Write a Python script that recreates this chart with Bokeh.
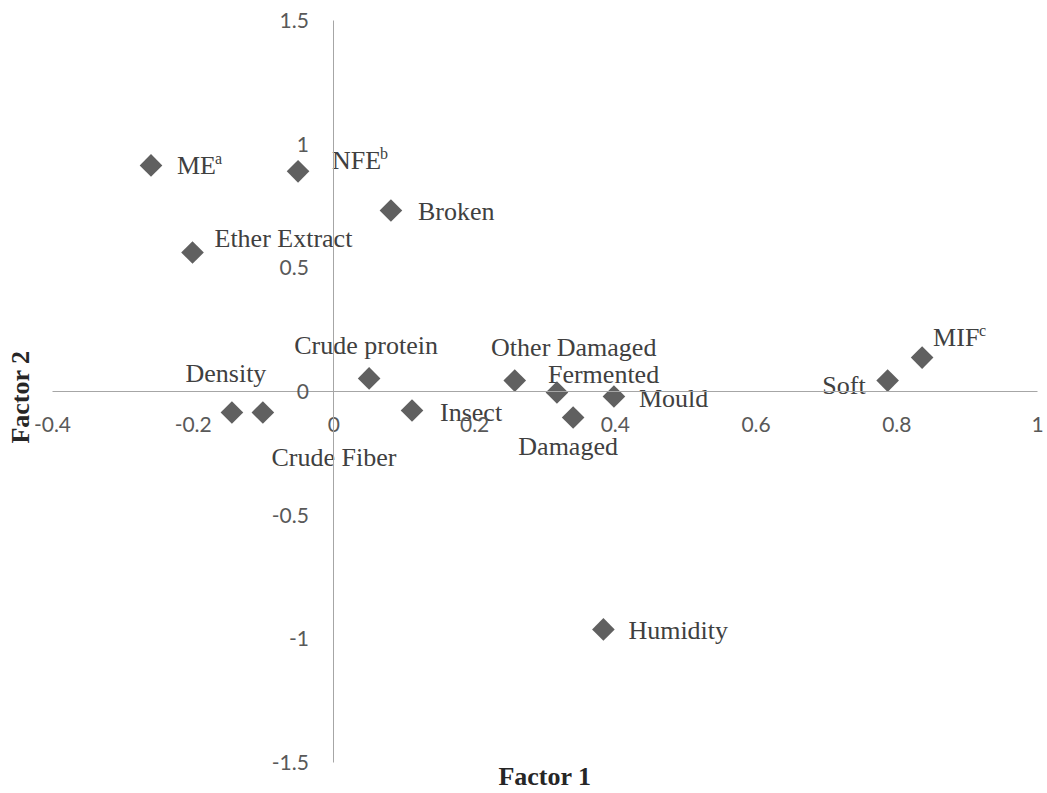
import numpy as np
from bokeh.plotting import figure
from bokeh.models import ColumnDataSource, Range1d, Title, FixedTicker, Label
from bokeh.core.properties import value
from bokeh.embed import file_html
from bokeh.resources import INLINE

# ---- data ----
labels = ["ME", "NFE", "Broken", "Ether Extract", "Crude protein", "Density",
          "Crude Fiber", "Insect", "Other Damaged", "Fermented", "Damaged",
          "Mould", "Soft", "MIF", "Humidity"]
superscripts = ["a", "b", "", "", "", "", "", "", "", "", "", "", "", "c", ""]
factor1 = [-0.260, -0.051, 0.081, -0.201, 0.050, -0.145, -0.101, 0.111,
           0.257, 0.317, 0.340, 0.398, 0.787, 0.836, 0.383]
factor2 = [0.914, 0.890, 0.732, 0.562, 0.053, -0.085, -0.085, -0.077,
           0.044, -0.004, -0.105, -0.020, 0.044, 0.137, -0.962]
x_ticks = [-0.4, -0.2, 0, 0.2, 0.4, 0.6, 0.8, 1]
x_tick_labels = ["-0.4", "-0.2", "0", "0.2", "0.4", "0.6", "0.8", "1"]
y_ticks = [-1.5, -1, -0.5, 0, 0.5, 1, 1.5]
y_tick_labels = ["-1.5", "-1", "-0.5", "0", "0.5", "1", "1.5"]

# ---- label placement (screen pixels relative to the marker) ----
label_dx = [26, 34, 27, 22, -3, -6, 71, 28, 59, -9, -5, 25, -22, 11, 25]
label_dy = [0, -11, 1, -14, -33, -39, 45, 2, -33, -18, 29, 2, 5, -20, 1]
label_align = ["left", "left", "left", "left", "center", "center", "center",
               "left", "center", "left", "center", "left", "right", "left", "left"]
sup_dx = {"ME": 64, "NFE": 82, "MIF": 57}

src = ColumnDataSource(dict(x=factor1, y=factor2, label=labels,
                            dx=label_dx, dy=label_dy, align=label_align))

sx, sy, st, sdx, sdy = [], [], [], [], []
for lab, s, x, y, dy in zip(labels, superscripts, factor1, factor2, label_dy):
    if s:
        sx.append(x); sy.append(y); st.append(s)
        sdx.append(sup_dx[lab]); sdy.append(dy - 7)
sup_src = ColumnDataSource(dict(x=sx, y=sy, text=st, dx=sdx, dy=sdy))

# frame padding so the axis labels at the ends are not clipped
xmin, xmax = x_ticks[0], x_ticks[-1]
ymin, ymax = y_ticks[0], y_ticks[-1]
kx = 985 / (xmax - xmin)
ky = 742 / (ymax - ymin)

p = figure(width=1047, height=793,
           x_range=Range1d(xmin - 18 / kx, xmax + 10 / kx),
           y_range=Range1d(ymin - 31 / ky, ymax + 20 / ky),
           output_backend="svg", toolbar_location=None,
           min_border_left=34, min_border_right=0,
           min_border_top=0, min_border_bottom=0)

p.grid.visible = False
p.outline_line_color = None
p.background_fill_color = "white"

for ax, ticks, tl in ((p.xaxis[0], x_ticks, x_tick_labels),
                      (p.yaxis[0], y_ticks, y_tick_labels)):
    ax.fixed_location = 0
    ax.bounds = (ticks[0], ticks[-1])
    ax.ticker = FixedTicker(ticks=ticks)
    ax.major_label_overrides = dict(zip(ticks, tl))
    ax.axis_line_color = "#a6a6a6"
    ax.axis_line_width = 1
    ax.major_tick_line_color = None
    ax.minor_tick_line_color = None
    ax.major_tick_out = 0
    ax.major_tick_in = 0
    ax.major_label_text_font = "Lato"
    ax.major_label_text_font_size = "21px"
    ax.major_label_text_color = "#595959"
p.xaxis[0].major_label_standoff = 25
p.yaxis[0].major_label_standoff = 25

p.scatter("x", "y", source=src, marker="square", angle=np.pi / 4, size=16,
          fill_color="#606060", line_color=None)

p.text(x="x", y="y", text="label", x_offset="dx", y_offset="dy",
       text_align="align", text_baseline="middle", source=src,
       text_font=value("Liberation Serif"), text_font_size="26px",
       text_color="#404040")
p.text(x="x", y="y", text="text", x_offset="dx", y_offset="dy",
       text_align="left", text_baseline="middle", source=sup_src,
       text_font=value("Liberation Serif"), text_font_size="16px",
       text_color="#404040")

t2 = Title(text="Factor 2", align="center", text_font="Liberation Serif",
           text_font_size="26px", text_font_style="bold", text_color="#262626",
           standoff=0)
p.add_layout(t2, "left")

t1 = Label(x=0.30, y=ymin, y_offset=-14, text="Factor 1",
           text_align="center", text_baseline="middle",
           text_font="Liberation Serif", text_font_size="26px",
           text_font_style="bold", text_color="#262626")
p.add_layout(t1)

open("out.html", "w").write(file_html(p, INLINE))
